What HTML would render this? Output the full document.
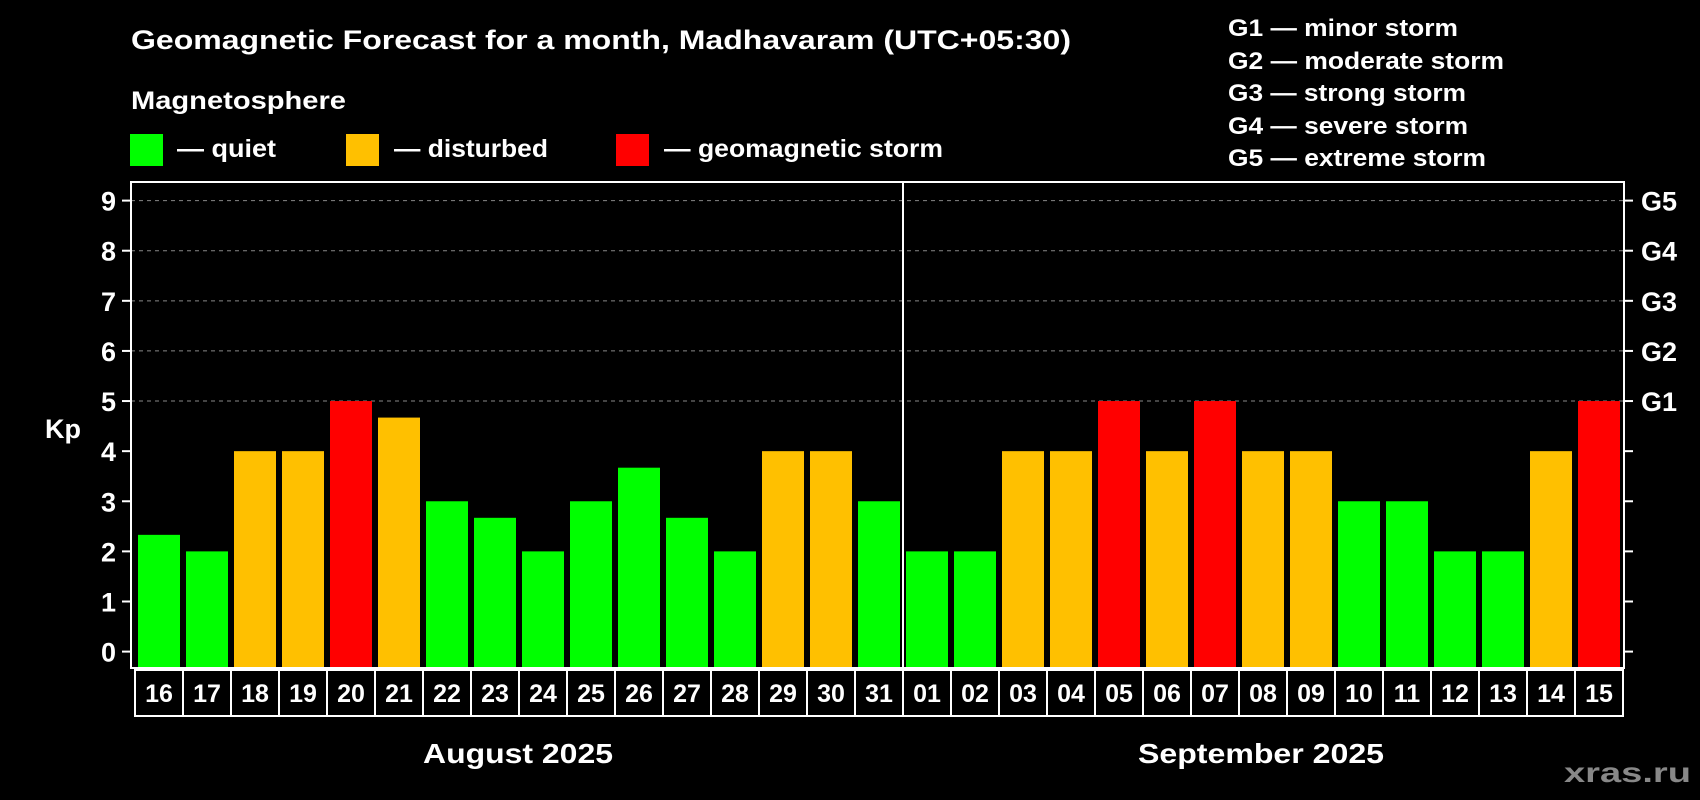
<!DOCTYPE html>
<html><head><meta charset="utf-8"><style>
html,body{margin:0;padding:0;background:#000;}
svg{display:block;font-family:"Liberation Sans",Arial,sans-serif;font-weight:bold;}
</style></head><body>
<svg id="c" width="1700" height="800" viewBox="0 0 1700 800">
<rect x="0" y="0" width="1700" height="800" fill="#000"/>
<text x="131" y="49" fill="#fff" font-size="27" textLength="940" lengthAdjust="spacingAndGlyphs">Geomagnetic Forecast for a month, Madhavaram (UTC+05:30)</text>
<text x="131" y="109" fill="#fff" font-size="25" textLength="215" lengthAdjust="spacingAndGlyphs">Magnetosphere</text>
<g><rect x="130" y="134" width="33" height="32" fill="#00ff00"/><text x="177" y="157" fill="#fff" font-size="25" textLength="99" lengthAdjust="spacingAndGlyphs">— quiet</text></g>
<g><rect x="346" y="134" width="33" height="32" fill="#ffc000"/><text x="394" y="157" fill="#fff" font-size="25" textLength="154" lengthAdjust="spacingAndGlyphs">— disturbed</text></g>
<g><rect x="616" y="134" width="33" height="32" fill="#ff0000"/><text x="664" y="157" fill="#fff" font-size="25" textLength="279" lengthAdjust="spacingAndGlyphs">— geomagnetic storm</text></g>
<g fill="#fff" font-size="24">
<text x="1228" y="36" textLength="230" lengthAdjust="spacingAndGlyphs">G1 — minor storm</text>
<text x="1228" y="69" textLength="276" lengthAdjust="spacingAndGlyphs">G2 — moderate storm</text>
<text x="1228" y="101" textLength="238" lengthAdjust="spacingAndGlyphs">G3 — strong storm</text>
<text x="1228" y="134" textLength="240" lengthAdjust="spacingAndGlyphs">G4 — severe storm</text>
<text x="1228" y="166" textLength="258" lengthAdjust="spacingAndGlyphs">G5 — extreme storm</text>
</g>
<text x="63" y="438" fill="#fff" font-size="27" text-anchor="middle">Kp</text>
<g id="grid"></g><g id="bars"></g><g id="axes"></g><g id="dates"></g>
<text x="423" y="763" fill="#fff" font-size="28" textLength="190" lengthAdjust="spacingAndGlyphs">August 2025</text>
<text x="1138" y="763" fill="#fff" font-size="28" textLength="246" lengthAdjust="spacingAndGlyphs">September 2025</text>
<text x="1564" y="782" fill="#888" font-size="28" textLength="127" lengthAdjust="spacingAndGlyphs">xras.ru</text>
</svg>
<script>
const days = ["16","17","18","19","20","21","22","23","24","25","26","27","28","29","30","31","01","02","03","04","05","06","07","08","09","10","11","12","13","14","15"];
const kpValues = [2.33,2,4,4,5,4.67,3,2.67,2,3,3.67,2.67,2,4,4,3,2,2,4,4,5,4,5,4,4,3,3,2,2,4,5];
const yTicks = [0,1,2,3,4,5,6,7,8,9];
const gLabels = ["G1","G2","G3","G4","G5"];
const NS="http://www.w3.org/2000/svg";
const X0=135, SW=48, BW=42, PL=131, PR=1624, PT=182, PB=668;
function y(v){return 651.6 - v*(651.6-200.6)/9;}
function x(i){return X0 + i*SW;}
function mk(t,a,p){const e=document.createElementNS(NS,t);for(const k in a)e.setAttribute(k,a[k]);p.appendChild(e);return e;}
function color(v){return v>=5?"#ff0000":(v>=4?"#ffc000":"#00ff00");}
const grid=document.getElementById('grid'),bars=document.getElementById('bars'),axes=document.getElementById('axes'),dates=document.getElementById('dates');
yTicks.forEach(t=>{
  if(t>=5){const l=mk('line',{x1:PL,x2:PR,y1:y(t),y2:y(t),stroke:'#888','stroke-width':1,'stroke-dasharray':'4,4'},grid);
  
  }
  mk('line',{x1:PL-9,x2:PL,y1:y(t),y2:y(t),stroke:'#fff','stroke-width':2},axes);
  mk('line',{x1:PR,x2:PR+9,y1:y(t),y2:y(t),stroke:'#fff','stroke-width':2},axes);
  const tx=mk('text',{x:116,y:y(t)+10,fill:'#fff','font-size':27,'text-anchor':'end'},axes);
  tx.textContent=t;
  
  
});
gLabels.forEach((g,i)=>{
  const tx=mk('text',{x:1641,y:y(5+i)+10,fill:'#fff','font-size':27},axes);
  tx.textContent=g;
  
  
});
kpValues.forEach((v,i)=>{
  const r=mk('rect',{x:x(i)+3,y:y(v),width:BW,height:PB-y(v),fill:color(v)},bars);
  
  
});
mk('rect',{x:PL,y:PT,width:PR-PL,height:PB-PT,fill:'none',stroke:'#fff','stroke-width':2},axes);
const dv=mk('line',{x1:x(16),x2:x(16),y1:PT,y2:PB,stroke:'#fff','stroke-width':2},axes);


days.forEach((d,i)=>{
  const c=mk('rect',{x:x(i),y:670,width:SW,height:46,fill:'#000',stroke:'#fff','stroke-width':2},dates);
  
  
  const t=mk('text',{x:x(i)+SW/2,y:702,fill:'#fff','font-size':25,'text-anchor':'middle'},dates);
  t.textContent=d;
  
  
});
</script>
</body></html>
